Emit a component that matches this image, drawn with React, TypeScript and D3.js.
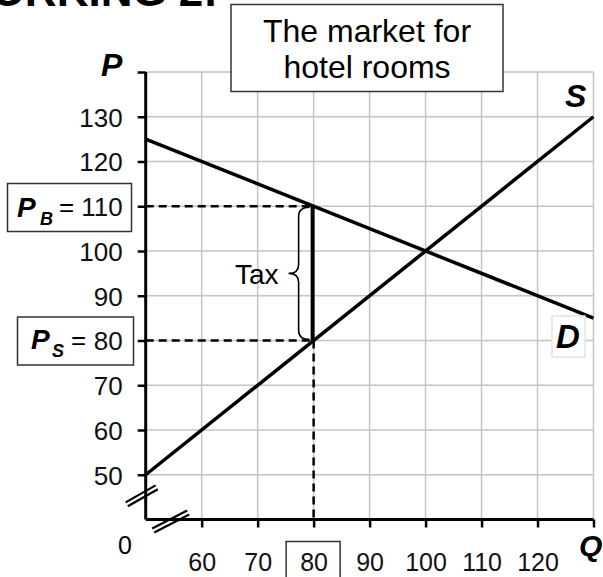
import React, { useRef, useEffect } from "react";
import { select, scaleLinear, line, axisLeft, axisBottom } from "d3";

// market data (price P vs quantity Q)
const qTicks = [60, 70, 80, 90, 100, 110, 120];
const qGrid = [60, 70, 80, 90, 100, 110, 120, 130];
const pTicks = [50, 60, 70, 80, 90, 100, 110, 120, 130];
const pGrid = [50, 60, 70, 80, 90, 100, 110, 120, 130, 140];
const demandQ = [50, 130];
const demandP = [125, 85];
const supplyQ = [50, 130];
const supplyP = [50, 130];
const taxQ = 80;
const buyerPrice = 110;
const sellerPrice = 80;

const FONT = "Arial, 'Liberation Sans', sans-serif";

const App = () => {
  const svgRef = useRef<SVGSVGElement | null>(null);

  useEffect(() => {
    const svg = select(svgRef.current);
    svg.selectAll("*").remove();

    const x = scaleLinear().domain([50, 130]).range([145.7, 593.5]);
    const y = scaleLinear().domain([40, 140]).range([519.5, 72]);

    // grid
    const grid = svg.append("g").attr("stroke", "#c4c4c4").attr("stroke-width", 1.5);
    grid.selectAll("line.v").data(qGrid).join("line").attr("class", "v")
      .attr("x1", (d) => x(d)).attr("x2", (d) => x(d)).attr("y1", y(140)).attr("y2", y(40));
    grid.selectAll("line.h").data(pGrid).join("line").attr("class", "h")
      .attr("x1", x(50)).attr("x2", x(130)).attr("y1", (d) => y(d)).attr("y2", (d) => y(d));

    // axes
    const yAxis = svg.append("g").attr("transform", `translate(${x(50)},0)`)
      .call(axisLeft(y).tickValues([...pTicks, 140]).tickSize(8).tickSizeOuter(0).tickFormat((d) => (+d === 140 ? "" : String(d))));
    yAxis.select(".domain").attr("stroke-width", 3).attr("d", `M0,${y(140)}V${y(40)}`);
    yAxis.selectAll(".tick line").attr("stroke-width", 2.5);
    yAxis.selectAll(".tick text").attr("x", -23).attr("dy", "0.36em")
      .attr("font-size", 26).attr("font-family", FONT).attr("fill", "#111");

    const xAxis = svg.append("g").attr("transform", `translate(0,${y(40)})`)
      .call(axisBottom(x).tickValues([...qTicks, 130]).tickSize(8).tickSizeOuter(0).tickFormat((d) => (+d === 130 ? "" : String(d))));
    xAxis.select(".domain").attr("stroke-width", 3).attr("d", `M${x(50)},0H${x(130)}`);
    xAxis.selectAll(".tick line").attr("stroke-width", 2.5);
    xAxis.selectAll(".tick text").attr("y", 51).attr("dy", 0)
      .attr("font-size", 25).attr("font-family", FONT).attr("fill", "#111");

    // axis breaks
    const brk = (cx: number, cy: number, dx: number, dy: number) => {
      const len = Math.hypot(dx, dy);
      const nx = (-dy / len) * 2.2;
      const ny = (dx / len) * 2.2;
      [-1, 1].forEach((s) => {
        svg.append("line")
          .attr("x1", cx - dx / 2 + s * nx).attr("y1", cy - dy / 2 + s * ny)
          .attr("x2", cx + dx / 2 + s * nx).attr("y2", cy + dy / 2 + s * ny)
          .attr("stroke", "#000").attr("stroke-width", 2.2);
      });
    };
    brk(x(50) - 4, y(45.3), 30, -17);
    brk(x(50) + 25, y(40) + 2, 35, -18);

    // curves
    const path = line<[number, number]>().x((d) => x(d[0])).y((d) => y(d[1]));
    svg.append("path").attr("d", path(demandQ.map((q, i) => [q, demandP[i]]) as [number, number][]))
      .attr("stroke", "#000").attr("stroke-width", 3.5).attr("fill", "none");
    svg.append("path").attr("d", path(supplyQ.map((q, i) => [q, supplyP[i]]) as [number, number][]))
      .attr("stroke", "#000").attr("stroke-width", 3.5).attr("fill", "none");

    // dashed guides
    const dash = (x1: number, y1: number, x2: number, y2: number) =>
      svg.append("line").attr("x1", x1).attr("y1", y1).attr("x2", x2).attr("y2", y2)
        .attr("stroke", "#000").attr("stroke-width", 2.5).attr("stroke-dasharray", "8,5");
    dash(x(50), y(buyerPrice), x(taxQ), y(buyerPrice));
    dash(x(50), y(sellerPrice), x(taxQ), y(sellerPrice));
    dash(x(taxQ), y(sellerPrice), x(taxQ), y(40));

    // tax wedge
    svg.append("line").attr("x1", x(taxQ) - 1).attr("x2", x(taxQ) - 1)
      .attr("y1", y(buyerPrice)).attr("y2", y(sellerPrice))
      .attr("stroke", "#000").attr("stroke-width", 4);

    // brace
    const bx0 = x(taxQ) - 4;
    const bx1 = x(taxQ) - 15;
    const tip = x(taxQ) - 25;
    const top = y(buyerPrice) + 1;
    const bot = y(sellerPrice) - 1;
    const mid = (top + bot) / 2;
    const r = 9;
    svg.append("path")
      .attr("d", `M${bx0},${top}Q${bx1},${top} ${bx1},${top + r}L${bx1},${mid - r}Q${bx1},${mid} ${tip},${mid}` +
        `Q${bx1},${mid} ${bx1},${mid + r}L${bx1},${bot - r}Q${bx1},${bot} ${bx0},${bot}`)
      .attr("fill", "none").attr("stroke", "#000").attr("stroke-width", 1.6);
    svg.append("text").attr("x", tip - 10).attr("y", mid + 11).attr("text-anchor", "end")
      .attr("font-family", FONT).attr("font-size", 28).text("Tax");

    // price boxes
    const box = (x0: number, y0: number, w: number, h: number, fill = "none", stroke = "#333") =>
      svg.append("rect").attr("x", x0).attr("y", y0).attr("width", w).attr("height", h)
        .attr("fill", fill).attr("stroke", stroke).attr("stroke-width", 1.5);
    box(7.5, 183.5, 124, 48);
    box(17.5, 317, 116, 48);
    const bi = (tx: number, ty: number, size: number, t: string) =>
      svg.append("text").attr("x", tx).attr("y", ty).attr("font-family", FONT).attr("font-size", size)
        .attr("font-weight", "bold").attr("font-style", "italic").text(t);
    const eq = (tx: number, ty: number) =>
      svg.append("text").attr("x", tx).attr("y", ty).attr("font-family", FONT).attr("font-size", 26).text("=");
    bi(17, y(buyerPrice) + 11, 28, "P");
    bi(40, y(buyerPrice) + 19, 18, "B");
    eq(59, y(buyerPrice) + 10);
    bi(31, y(sellerPrice) + 8, 28, "P");
    bi(52, y(sellerPrice) + 16, 18, "S");
    eq(71, y(sellerPrice) + 8);

    // quantity box
    box(x(taxQ) - 27.5, 541.5, 54, 45);

    // axis / curve labels
    bi(101, 76, 32, "P");
    bi(565, 107, 32, "S");
    box(552, 316, 33, 41, "#fff", "#e2e2e2");
    bi(556, 348, 33, "D");
    bi(579, 556, 30, "Q");
    svg.append("text").attr("x", 125).attr("y", 554).attr("text-anchor", "middle")
      .attr("font-family", FONT).attr("font-size", 25).text("0");

    // title box
    box(231, 4.5, 272, 87, "#fff", "#333");
    svg.append("text").attr("x", 367).attr("y", 42).attr("text-anchor", "middle")
      .attr("font-family", FONT).attr("font-size", 32).text("The market for");
    svg.append("text").attr("x", 367).attr("y", 78).attr("text-anchor", "middle")
      .attr("font-family", FONT).attr("font-size", 32).text("hotel rooms");

    // cropped heading at the very top (only its lower edge shows)
    svg.append("text").attr("x", 218).attr("y", 6).attr("text-anchor", "end")
      .attr("font-family", FONT).attr("font-size", 44).attr("font-weight", "bold").text("WORKING 2:");
  }, []);

  return (
    <svg ref={svgRef} width={603} height={577}
      style={{ position: "absolute", left: 0, top: 0, background: "#fff" }} />
  );
};

export default App;
